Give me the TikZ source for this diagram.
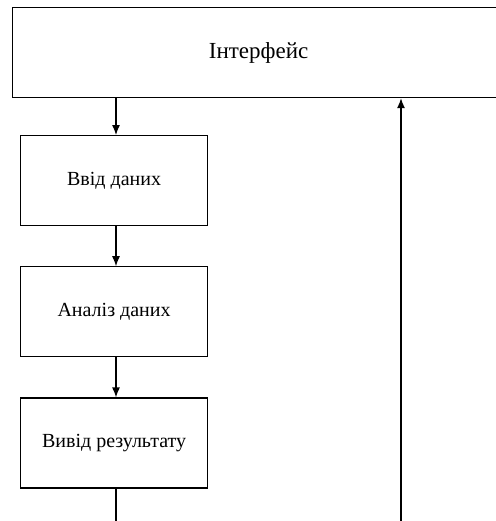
\documentclass[tikz,border=0pt]{standalone}
\usepackage{fontspec}
\setmainfont{Liberation Serif}
\usetikzlibrary{arrows.meta, positioning}

\begin{document}
\begin{tikzpicture}[x=0.5pt, y=-0.5pt, node distance=20pt,
        block/.style={rectangle, draw, fill=white, minimum width=93.5pt, minimum height=45pt, text centered, inner sep=0pt, line width=0.6pt, font=\fontsize{10}{12}\selectfont},
        line/.style={draw, -{Latex[length=5pt, width=4pt]}, line width=0.6pt}]
        \useasboundingbox (0,0) rectangle (495,521);

        \node [block, minimum width=246pt, anchor=north west, font=\fontsize{11.5}{13}\selectfont] (iface) at (12,7) {Інтерфейс};
        \node [block, anchor=north west] (input) at (20,135) {Ввід даних};
        \node [block, below=of input] (analysis) {Аналіз даних};
        \node [block, below=of analysis] (output) {Вивід результату};

        \coordinate (mid) at (116,0);
        \coordinate (outend) at (116,521);
        \coordinate (back) at (401,521);

        \path [line] (iface.south -| mid) -- (input.north -| mid);
        \path [line] (input.south -| mid) -- (analysis.north -| mid);
        \path [line] (analysis.south -| mid) -- (output.north -| mid);
        \draw [line width=0.6pt] (output.south -| mid) -- (outend);
        \path [line] (back) -- (back |- iface.south);
    \end{tikzpicture}
\end{document}
